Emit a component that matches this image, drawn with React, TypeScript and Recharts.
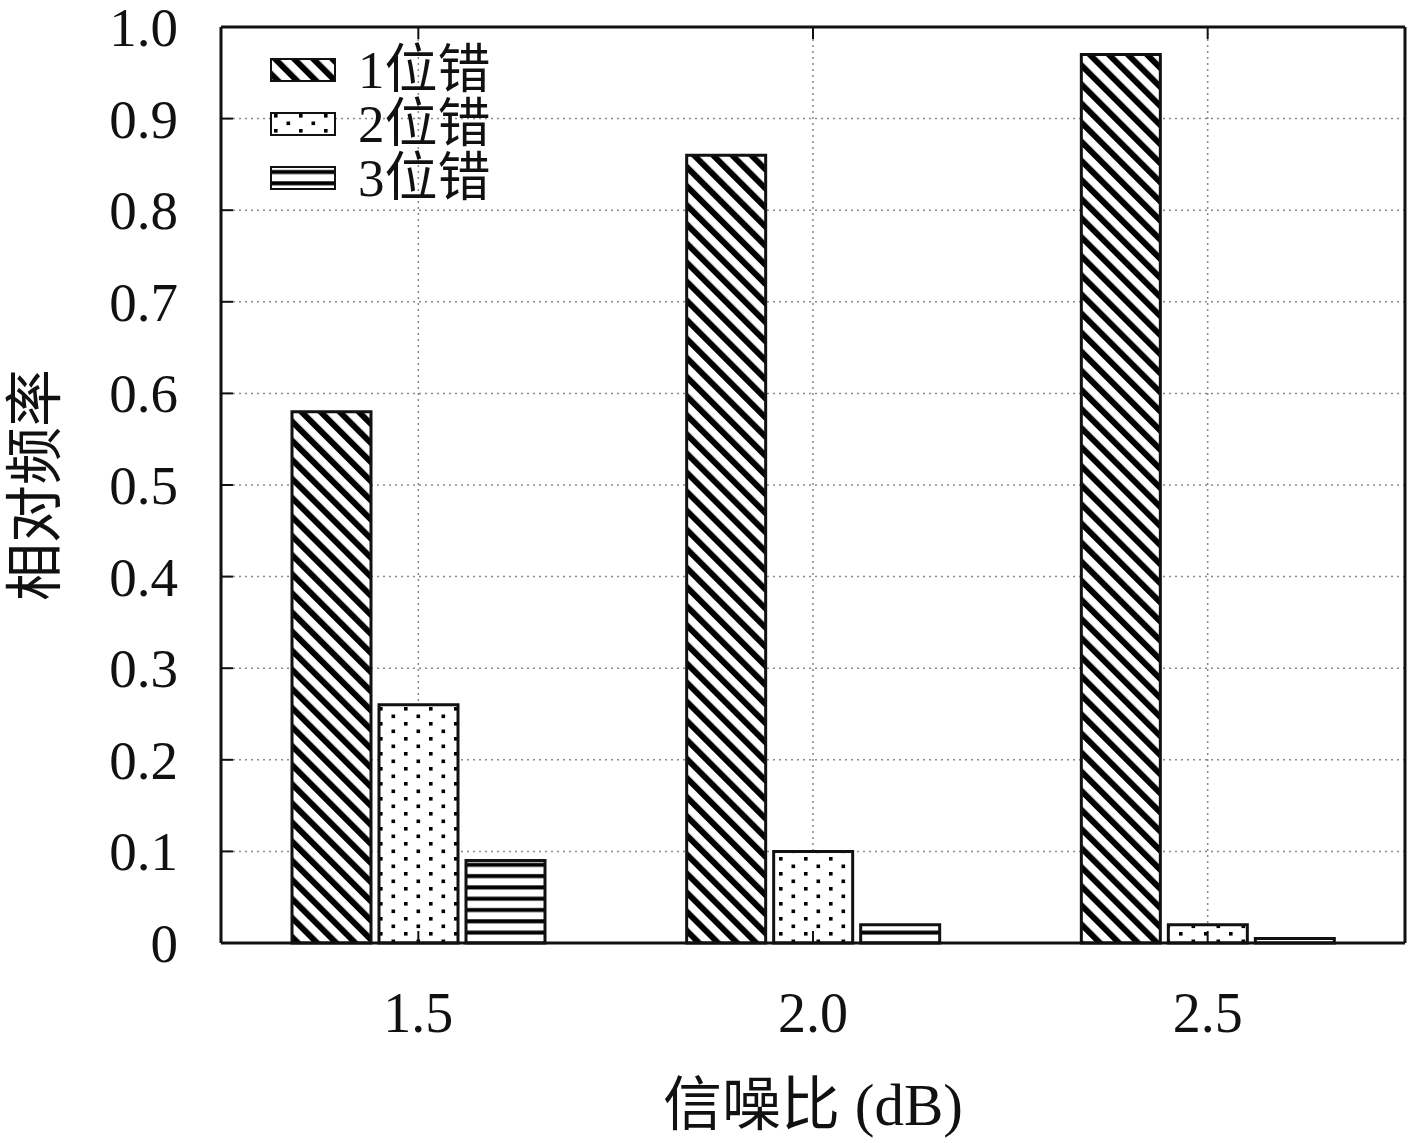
import React from 'react';
import {
  BarChart,
  Bar,
  XAxis,
  YAxis,
  CartesianGrid,
  Legend,
} from 'recharts';

const snrLabels = ['1.5', '2.0', '2.5'];
const oneBitErr = [0.58, 0.86, 0.97];
const twoBitErr = [0.26, 0.1, 0.02];
const threeBitErr = [0.09, 0.02, 0.005];
const seriesNames = ['1位错', '2位错', '3位错'];
const yTicks = [0, 0.1, 0.2, 0.3, 0.4, 0.5, 0.6, 0.7, 0.8, 0.9, 1.0];

const data = snrLabels.map((snr, i) => ({
  snr,
  e1: oneBitErr[i],
  e2: twoBitErr[i],
  e3: threeBitErr[i],
}));

const FONT = "'Liberation Serif', 'Noto Sans CJK SC', serif";
const patternIds = ['hatch', 'dots', 'hlines'];

const Patterns = () => (
  <defs>
    <pattern
      id="hatch"
      patternUnits="userSpaceOnUse"
      width={13.5}
      height={13.5}
      patternTransform="rotate(-45)"
    >
      <rect x={0} y={0} width={13.5} height={13.5} fill="#fff" />
      <rect x={0} y={0} width={6} height={13.5} fill="#000" />
    </pattern>
    <pattern id="dots" patternUnits="userSpaceOnUse" width={25} height={15}>
      <rect x={0} y={0} width={25} height={15} fill="#fff" />
      <rect x={4} y={2} width={3.6} height={3.6} fill="#000" />
      <rect x={16.5} y={9.5} width={3.6} height={3.6} fill="#000" />
    </pattern>
    <pattern id="hlines" patternUnits="userSpaceOnUse" width={10} height={11.3}>
      <rect x={0} y={0} width={10} height={11.3} fill="#fff" />
      <rect x={0} y={4} width={10} height={4} fill="#000" />
    </pattern>
  </defs>
);

const LeftTick = (props: any) => {
  const { x, y, payload } = props;
  const v = payload.value;
  return (
    <g>
      <text
        x={x}
        y={y}
        dy={19}
        textAnchor="end"
        fontFamily={FONT}
        fontSize={55}
        fill="#111"
      >
        {v === 0 ? '0' : v.toFixed(1)}
      </text>
      <line x1={x + 43} x2={x + 55} y1={y} y2={y} stroke="#111" strokeWidth={2} />
    </g>
  );
};

const RightTick = (props: any) => {
  const { x, y } = props;
  return <line x1={x - 12} x2={x} y1={y} y2={y} stroke="#111" strokeWidth={2} />;
};

const BottomTick = (props: any) => {
  const { x, y, payload } = props;
  return (
    <g>
      <text
        x={x}
        y={y}
        dy="0.71em"
        textAnchor="middle"
        fontFamily={FONT}
        fontSize={56}
        fill="#111"
      >
        {payload.value}
      </text>
      <line x1={x} x2={x} y1={y - 49} y2={y - 61} stroke="#111" strokeWidth={2} />
    </g>
  );
};

const TopTick = (props: any) => {
  const { x, y } = props;
  return <line x1={x} x2={x} y1={y} y2={y + 12} stroke="#111" strokeWidth={2} />;
};

const LegendBox = (props: any) => {
  const { payload } = props;
  return (
    <div style={{ fontFamily: FONT, fontSize: 53, color: '#111' }}>
      {(payload || []).map((entry: any, i: number) => (
        <div
          key={entry.value}
          style={{ display: 'flex', alignItems: 'center', height: 54 }}
        >
          <svg width={66} height={24} style={{ marginRight: 22 }}>
            <Patterns />
            <rect
              x={1}
              y={1}
              width={64}
              height={22}
              fill={`url(#${patternIds[i]})`}
              stroke="#111"
              strokeWidth={2}
            />
          </svg>
          <span style={{ lineHeight: '54px' }}>{entry.value}</span>
        </div>
      ))}
    </div>
  );
};

export default function App() {
  return (
    <div style={{ position: 'absolute', left: 0, top: 0, background: '#fff' }}>
      <BarChart
        width={1417}
        height={1143}
        data={data}
        margin={{ top: 26, right: 0, bottom: 0, left: 0 }}
        barCategoryGap={71}
        barGap={8}
      >
        <Patterns />
        <CartesianGrid stroke="#888" strokeDasharray="2 4" strokeWidth={1.5} />
        <XAxis
          dataKey="snr"
          height={200}
          axisLine={{ stroke: '#111', strokeWidth: 3 }}
          tickLine={false}
          tickSize={0}
          tickMargin={49}
          tick={<BottomTick />}
          label={{
            content: ({ viewBox }: any) => (
              <text
                x={viewBox.x + viewBox.width / 2}
                y={viewBox.y + 162}
                textAnchor="middle"
                dominantBaseline="central"
                fontFamily={FONT}
                fontSize={59}
                fill="#111"
              >
                信噪比 (dB)
              </text>
            ),
          }}
        />
        <XAxis
          xAxisId="top"
          dataKey="snr"
          orientation="top"
          height={1}
          axisLine={{ stroke: '#111', strokeWidth: 3 }}
          tickLine={false}
          tickSize={0}
          tickMargin={0}
          tick={<TopTick />}
        />
        <YAxis
          domain={[0, 1]}
          ticks={yTicks}
          width={221}
          axisLine={{ stroke: '#111', strokeWidth: 3 }}
          tickLine={false}
          tickSize={0}
          tickMargin={43}
          tick={<LeftTick />}
          interval={0}
          label={{
            content: ({ viewBox }: any) => {
              const cx = viewBox.x + 35;
              const cy = viewBox.y + viewBox.height / 2;
              return (
                <text
                  x={cx}
                  y={cy}
                  textAnchor="middle"
                  dominantBaseline="central"
                  transform={`rotate(-90 ${cx} ${cy})`}
                  fontFamily={FONT}
                  fontSize={58}
                  fill="#111"
                >
                  相对频率
                </text>
              );
            },
          }}
        />
        <YAxis
          yAxisId="r"
          orientation="right"
          domain={[0, 1]}
          ticks={yTicks}
          width={12}
          axisLine={{ stroke: '#111', strokeWidth: 3 }}
          tickLine={false}
          tickSize={0}
          tickMargin={0}
          tick={<RightTick />}
          interval={0}
        />
        <Legend
          layout="vertical"
          verticalAlign="middle"
          align="center"
          wrapperStyle={{ left: 270, top: 43, width: 280 }}
          content={<LegendBox />}
        />
        <Bar
          dataKey="e1"
          name={seriesNames[0]}
          fill="url(#hatch)"
          stroke="#111"
          strokeWidth={3}
          isAnimationActive={false}
        />
        <Bar
          dataKey="e2"
          name={seriesNames[1]}
          fill="url(#dots)"
          stroke="#111"
          strokeWidth={3}
          isAnimationActive={false}
        />
        <Bar
          dataKey="e3"
          name={seriesNames[2]}
          fill="url(#hlines)"
          stroke="#111"
          strokeWidth={3}
          isAnimationActive={false}
        />
      </BarChart>
    </div>
  );
}
